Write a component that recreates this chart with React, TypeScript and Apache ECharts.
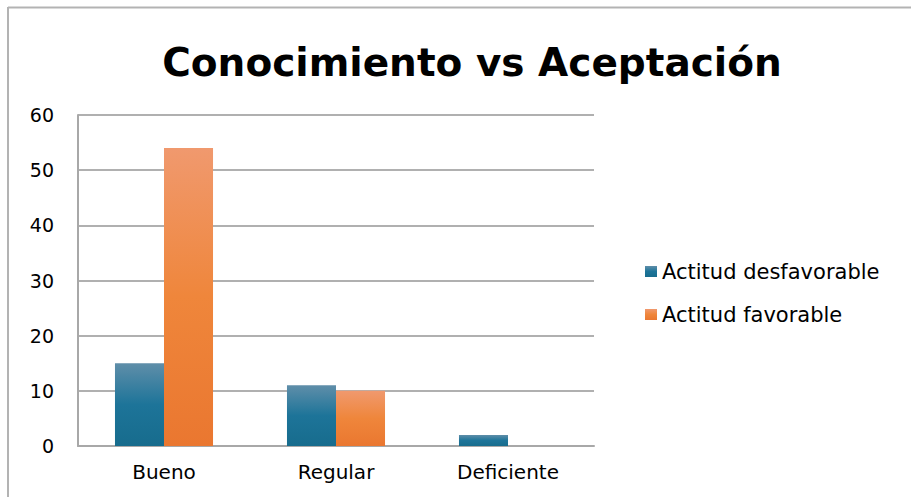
import React, { useEffect, useRef } from "react";
import * as echarts from "echarts";

const categories = ["Bueno", "Regular", "Deficiente"];
const desfavorable = [15, 11, 2];
const favorable = [54, 10, 0];
const yTicks = { min: 0, max: 60, interval: 10 };

export default function App() {
  const ref = useRef<HTMLDivElement>(null);
  useEffect(() => {
    if (!ref.current) return;
    const chart = echarts.init(ref.current, null, { renderer: "svg" });
    const blue = new echarts.graphic.LinearGradient(0, 0, 0, 1, [
      { offset: 0, color: "#5f8ea9" },
      { offset: 0.5, color: "#1d7499" },
      { offset: 1, color: "#176c8d" },
    ]);
    const orange = new echarts.graphic.LinearGradient(0, 0, 0, 1, [
      { offset: 0, color: "#f0996e" },
      { offset: 0.5, color: "#ef863b" },
      { offset: 1, color: "#ea7730" },
    ]);
    chart.setOption({
      animation: false,
      backgroundColor: "#ffffff",
      title: {
        text: "Conocimiento vs Aceptación",
        left: 467,
        textAlign: "center",
        top: 38,
        textStyle: {
          fontFamily: "DejaVu Sans",
          fontWeight: "bold",
          fontSize: 39,
          color: "#000000",
        },
      },
      legend: {
        orient: "vertical",
        left: 640,
        top: 256,
        itemGap: 22,
        itemWidth: 12,
        itemHeight: 11,
        icon: "rect",
        textStyle: { fontFamily: "DejaVu Sans", fontSize: 21, color: "#000000" },
        data: ["Actitud desfavorable", "Actitud favorable"],
      },
      grid: { left: 78, right: 317, top: 115, bottom: 51, containLabel: false },
      xAxis: {
        type: "category",
        data: categories,
        axisLine: { lineStyle: { color: "#a8a8a8", width: 2 } },
        axisTick: { show: false },
        axisLabel: {
          fontFamily: "DejaVu Sans",
          fontSize: 20,
          color: "#000000",
          margin: 16,
        },
      },
      yAxis: {
        type: "value",
        min: yTicks.min,
        max: yTicks.max,
        interval: yTicks.interval,
        axisLine: { show: true, lineStyle: { color: "#a8a8a8", width: 2 } },
        axisTick: { show: false },
        splitLine: { lineStyle: { color: "#b0b0b0", width: 2 } },
        axisLabel: {
          fontFamily: "DejaVu Sans",
          fontSize: 19,
          color: "#000000",
          margin: 24,
        },
      },
      series: [
        {
          name: "Actitud desfavorable",
          type: "bar",
          data: desfavorable,
          barGap: "0%",
          barCategoryGap: "43%",
          itemStyle: { color: blue },
        },
        {
          name: "Actitud favorable",
          type: "bar",
          data: favorable,
          barGap: "0%",
          barCategoryGap: "43%",
          itemStyle: { color: orange },
        },
      ],
      graphic: [
        {
          type: "line",
          shape: { x1: 8, y1: 7.5, x2: 911, y2: 7.5 },
          style: { stroke: "#b3b3b3", lineWidth: 2 },
        },
        {
          type: "line",
          shape: { x1: 8, y1: 7, x2: 8, y2: 497 },
          style: { stroke: "#b3b3b3", lineWidth: 2 },
        },
      ],
    });
    return () => chart.dispose();
  }, []);
  return (
    <div
      ref={ref}
      style={{ position: "fixed", left: 0, top: 0, width: 911, height: 497 }}
    />
  );
}
